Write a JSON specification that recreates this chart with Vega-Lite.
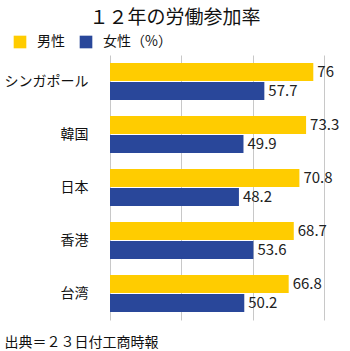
{
  "$schema": "https://vega.github.io/schema/vega-lite/v6.json",
  "autosize": "none",
  "width": 214,
  "height": 265,
  "padding": {"left": 110, "top": 55, "right": 26, "bottom": 31},
  "background": "white",
  "config": {"font": "Noto Sans CJK JP", "view": {"stroke": null}},
  "title": {"text": "１２年の労働参加率", "anchor": "middle", "dx": -42, "fontSize": 19, "fontWeight": "normal", "color": "#111", "offset": 7},
  "data": {"values": [
    {"country": "シンガポール", "sex": "男性", "value": 76},
    {"country": "シンガポール", "sex": "女性（%）", "value": 57.7},
    {"country": "韓国", "sex": "男性", "value": 73.3},
    {"country": "韓国", "sex": "女性（%）", "value": 49.9},
    {"country": "日本", "sex": "男性", "value": 70.8},
    {"country": "日本", "sex": "女性（%）", "value": 48.2},
    {"country": "香港", "sex": "男性", "value": 68.7},
    {"country": "香港", "sex": "女性（%）", "value": 53.6},
    {"country": "台湾", "sex": "男性", "value": 66.8},
    {"country": "台湾", "sex": "女性（%）", "value": 50.2}
  ]},
  "encoding": {
    "y": {"field": "country", "type": "nominal", "sort": null,
      "scale": {"paddingInner": 0.3, "paddingOuter": 0.15},
      "axis": {"title": null, "domain": false, "ticks": false, "labelFontSize": 14, "labelColor": "#111", "labelPadding": 22}},
    "yOffset": {"field": "sex", "type": "nominal", "sort": ["男性", "女性（%）"], "scale": {"paddingInner": 0.05}},
    "x": {"field": "value", "type": "quantitative",
      "scale": {"domain": [0, 80], "nice": false},
      "axis": {"values": [0, 26.667, 53.333, 80], "labels": false, "ticks": false, "domain": false, "gridColor": "#c8c8c8", "title": "出典＝２３日付工商時報", "titleFontSize": 14, "titleFontWeight": "normal", "titleColor": "#111", "titleAnchor": "start", "titleAlign": "left", "titleBaseline": "middle", "titleX": -106, "titleY": 22}}
  },
  "layer": [
    {"mark": {"type": "bar"},
     "encoding": {"color": {"field": "sex", "type": "nominal", "sort": ["男性", "女性（%）"],
       "scale": {"domain": ["男性", "女性（%）"], "range": ["#FFCC00", "#29479A"]},
       "legend": {"title": null, "orient": "none", "direction": "horizontal", "legendX": -97, "legendY": -20, "symbolType": "square", "symbolSize": 160, "symbolStrokeWidth": 0, "labelFontSize": 14, "labelColor": "#111", "columnPadding": 14, "labelOffset": 10}}}},
    {"mark": {"type": "text", "align": "left", "dx": 4, "fontSize": 15, "color": "#222"},
     "encoding": {"text": {"field": "value", "type": "quantitative"}}}
  ]
}
